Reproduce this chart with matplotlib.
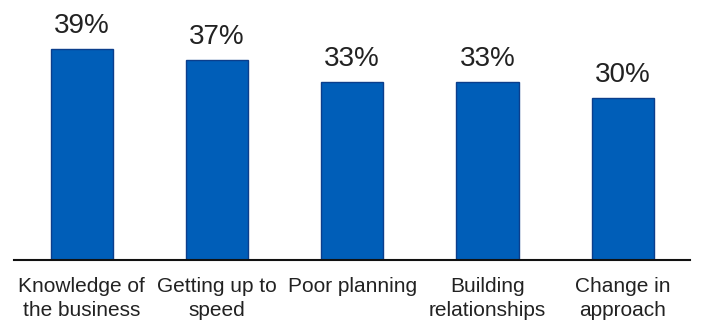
import matplotlib.pyplot as plt

categories = ['Knowledge of\nthe business', 'Getting up to\nspeed', 'Poor planning',
              'Building\nrelationships', 'Change in\napproach']
values = [39, 37, 33, 33, 30]

plt.rcParams['font.family'] = ['Liberation Sans', 'DejaVu Sans']

fig = plt.figure(figsize=(7.01, 3.24), dpi=100)
ax = fig.add_axes([0.02, 0.1975, 0.965, 0.75])

x = range(len(values))
ax.bar(x, values, width=0.46, color='#005EB8', edgecolor='#0B3E8C', linewidth=1)
for i, v in zip(x, values):
    ax.annotate(f'{v}%', (i, v), xytext=(0, 11.5), textcoords='offset points',
                ha='center', va='baseline', fontsize=20, color='#222222')

ax.set_xlim(-0.5, 4.5)
ax.set_ylim(0, 45)
ax.set_xticks(list(x))
ax.set_xticklabels(categories, fontsize=15, color='#222222', linespacing=1.35)
ax.tick_params(axis='x', length=0, pad=12)
ax.set_yticks([])
for s in ['top', 'right', 'left']:
    ax.spines[s].set_visible(False)
ax.spines['bottom'].set_linewidth(1.5)
ax.spines['bottom'].set_color('#111111')

fig.savefig('out.png', dpi=100)
